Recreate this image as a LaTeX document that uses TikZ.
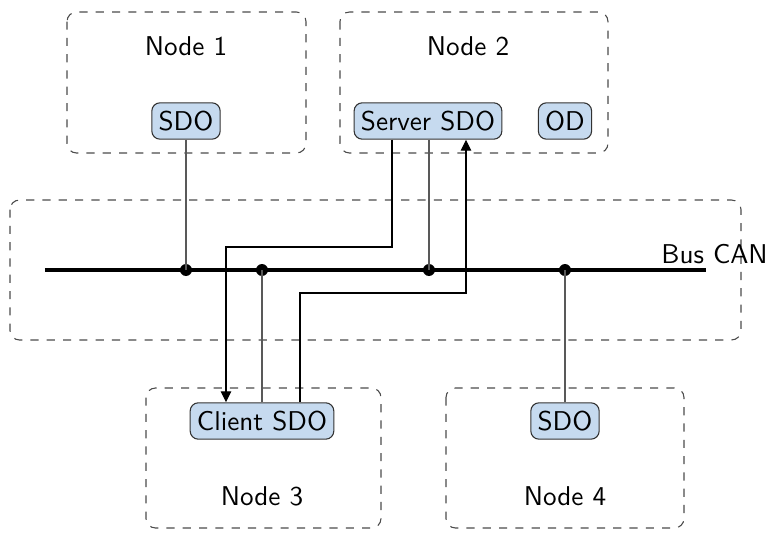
\documentclass[tikz,border=0pt]{standalone}
\usepackage{tikz}
\usetikzlibrary{arrows,arrows.meta}
\definecolor{objfill}{RGB}{198,218,239}
\tikzset{
  area/.style={draw=black!70,dashed,rounded corners=3.5pt},
  obj/.style={draw=black!80,fill=objfill,rounded corners=3pt,inner xsep=2.5pt,inner ysep=3pt,font=\sffamily},
  lab/.style={font=\sffamily},
  tap/.style={draw=black!65},
  msg/.style={draw=black,-{Triangle[length=4pt,width=3.8pt]}},
}
\begin{document}
\begin{tikzpicture}[x=0.368pt,y=-0.368pt]
      \useasboundingbox (0,0) rectangle (771,533);

      % areas
      \draw[area] (67,12) rectangle (306,153);
      \draw[area] (340,12) rectangle (608,153);
      \draw[area] (10,200) rectangle (741,340);
      \draw[area] (146,388) rectangle (381,528);
      \draw[area] (446,388) rectangle (684,528);

      % labels
      \node[lab] (n1) at (186,46) {Node 1};
      \node[lab] (n2) at (468,46) {Node 2};
      \node[lab] (n3) at (262,496) {Node 3};
      \node[lab] (n4) at (565,496) {Node 4};
      \node[lab,anchor=east,inner sep=1pt] (bus) at (771,254) {Bus CAN};

      % objects
      \node[obj] (sdo1) at (186,121) {SDO};
      \node[obj] (srv) at (428,121) {Server SDO};
      \node[obj] (od) at (565,121) {OD};
      \node[obj] (cli) at (262,421) {Client SDO};
      \node[obj] (sdo4) at (565,421) {SDO};

      % bus
      \path (45,270) coordinate (b0) (706,270) coordinate (b1);
      \draw[line width=1.2pt] (b0) to (b1);
      \foreach \x in {186,262,429,565}
      { \path (\x,270) coordinate (d\x); \fill (d\x) circle (6); }

      \draw[tap] (sdo1) to (d186);
      \draw[tap] (srv.south -| d429) to (d429);
      \draw[tap] (cli.north -| d262) to (d262);
      \draw[tap] (sdo4) to (d565);

      % request / response
      \draw[msg] (srv.south -| 392,0) |- (226,247) to (cli.north -| 226,0);
      \draw[msg] (cli.north -| 300,0) |- (466,293) to (srv.south -| 466,0);
    \end{tikzpicture}
\end{document}
